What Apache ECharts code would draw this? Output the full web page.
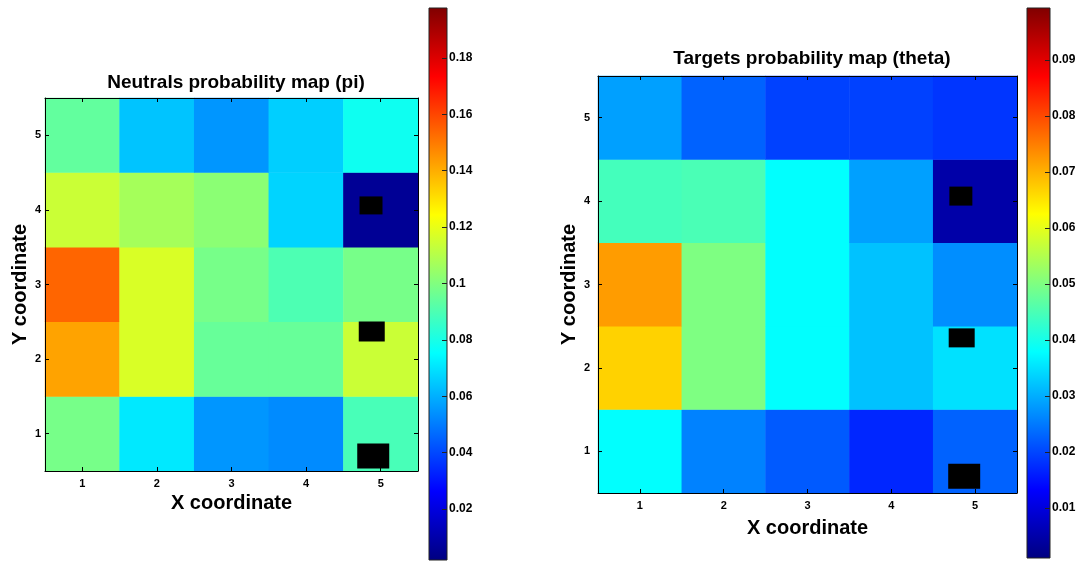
<!DOCTYPE html>
<html>
<head>
<meta charset="utf-8">
<script src="https://cdn.jsdelivr.net/npm/echarts@6/dist/echarts.min.js"></script>
<style>
html,body{margin:0;padding:0;background:#fff;}
#chart{width:1087px;height:562px;}
</style>
</head>
<body>
<div id="chart"></div>
<script>
// ---------------- data ----------------
const xCategories = ['1', '2', '3', '4', '5'];
const yCategories = ['1', '2', '3', '4', '5'];

// Neutrals probability map (pi); each row is one Y coordinate, values for X = 1..5
const piY1 = [0.098, 0.071, 0.055, 0.053, 0.089];
const piY2 = [0.142, 0.117, 0.095, 0.095, 0.114];
const piY3 = [0.154, 0.117, 0.098, 0.090, 0.098];
const piY4 = [0.114, 0.107, 0.102, 0.067, 0.006];
const piY5 = [0.094, 0.064, 0.055, 0.066, 0.078];

// Targets probability map (theta)
const thetaY1 = [0.038, 0.0258, 0.022, 0.017, 0.0228];
const thetaY2 = [0.0668, 0.050, 0.038, 0.032, 0.035];
const thetaY3 = [0.072, 0.050, 0.038, 0.032, 0.027];
const thetaY4 = [0.0444, 0.045, 0.038, 0.0287, 0.005];
const thetaY5 = [0.0287, 0.0228, 0.0196, 0.0196, 0.0185];

// colour scale ranges
const piRange = [0.0019, 0.1977];
const thetaRange = [0.0011, 0.0993];

// colourbar tick labels
const piTicks = [0.02, 0.04, 0.06, 0.08, 0.1, 0.12, 0.14, 0.16, 0.18];
const thetaTicks = [0.01, 0.02, 0.03, 0.04, 0.05, 0.06, 0.07, 0.08, 0.09];

// black marker boxes (data coordinates x, y)
const piBoxes = [[4.87, 4.06], [4.88, 2.37], [4.90, 0.70]];
const thetaBoxes = [[4.83, 4.06], [4.84, 2.36], [4.87, 0.70]];

// ---------------- helpers ----------------
const jet = ['#000080', '#0000ff', '#0080ff', '#00ffff', '#80ff80', '#ffff00', '#ff8000', '#ff0000', '#800000'];
function toCells(rows) {
  const out = [];
  rows.forEach((row, yi) => row.forEach((v, xi) => out.push([xi, yi, v])));
  return out;
}
const piCells = toCells([piY1, piY2, piY3, piY4, piY5]);
const thetaCells = toCells([thetaY1, thetaY2, thetaY3, thetaY4, thetaY5]);

const FONT = 'Liberation Sans, Arial, sans-serif';
const grids = [
  {left: 45, top: 98, width: 373, height: 373},     // 0 pi heatmap
  {left: 45, top: 98, width: 373, height: 373},     // 1 pi overlay
  {left: 429, top: 8, width: 18, height: 552},      // 2 pi colourbar
  {left: 598, top: 76, width: 419, height: 417},    // 3 theta heatmap
  {left: 598, top: 76, width: 419, height: 417},    // 4 theta overlay
  {left: 1027, top: 8, width: 23, height: 550}      // 5 theta colourbar
];
function jetGradient() {
  return new echarts.graphic.LinearGradient(0, 1, 0, 0,
    jet.map((c, i) => ({offset: i / (jet.length - 1), color: c})));
}
grids[2].show = true; grids[2].backgroundColor = jetGradient(); grids[2].borderColor = '#222'; grids[2].borderWidth = 1;
grids[5].show = true; grids[5].backgroundColor = jetGradient(); grids[5].borderColor = '#222'; grids[5].borderWidth = 1;

const tickLabel = {fontFamily: FONT, fontSize: 11, fontWeight: 'bold', color: '#000'};
const nameStyle = {fontFamily: FONT, fontSize: 20, fontWeight: 'bold', color: '#000'};

function catX(gridIndex, position, showLabel, name, nameGap) {
  return {
    type: 'category', gridIndex, data: xCategories, position, z: 5,
    axisLine: {show: true, lineStyle: {color: '#000', width: 1}},
    axisTick: {show: true, inside: true, alignWithLabel: true, length: 4, lineStyle: {color: '#000'}},
    axisLabel: Object.assign({show: showLabel, margin: 7}, tickLabel),
    splitLine: {show: false},
    name: name || '', nameLocation: 'middle', nameGap: nameGap || 0, nameTextStyle: nameStyle
  };
}
function catY(gridIndex, position, showLabel, name, nameGap, margin) {
  return {
    type: 'category', gridIndex, data: yCategories, position, z: 5,
    axisLine: {show: true, lineStyle: {color: '#000', width: 1}},
    axisTick: {show: true, inside: true, alignWithLabel: true, length: 4, lineStyle: {color: '#000'}},
    axisLabel: Object.assign({show: showLabel, margin: margin || 8}, tickLabel),
    splitLine: {show: false},
    name: name || '', nameLocation: 'middle', nameGap: nameGap || 0, nameTextStyle: nameStyle, nameRotate: 90
  };
}
function overlayAxis(type, gridIndex) {
  return {type: 'value', gridIndex, min: 0.5, max: 5.5, show: false};
}
function barAxis(gridIndex, range, ticks) {
  return {
    type: 'value', gridIndex, min: range[0], max: range[1], position: 'right', z: 5,
    axisLine: {show: false},
    splitLine: {show: false},
    axisTick: {show: true, inside: true, length: 5, lineStyle: {color: '#222'}, customValues: ticks},
    axisLabel: Object.assign({margin: 2, customValues: ticks, formatter: v => String(+v.toFixed(2))}, tickLabel, {fontSize: 12})
  };
}

const titleStyle = {fontFamily: FONT, fontSize: 19, fontWeight: 'bold', color: '#000'};
const option = {
  animation: false,
  backgroundColor: '#fff',
  title: [
    {text: 'Neutrals probability map (pi)', left: 231, top: 68, textAlign: 'center', textStyle: titleStyle},
    {text: 'Targets probability map (theta)', left: 807, top: 44, textAlign: 'center', textStyle: titleStyle}
  ],
  grid: grids,
  xAxis: [
    catX(0, 'bottom', true, 'X coordinate', 22),
    overlayAxis('x', 1),
    {type: 'category', gridIndex: 2, show: false, data: ['c']},
    catX(3, 'bottom', true, 'X coordinate', 25),
    overlayAxis('x', 4),
    {type: 'category', gridIndex: 5, show: false, data: ['c']},
    // top frames
    catX(0, 'top', false), catX(3, 'top', false)
  ],
  yAxis: [
    catY(0, 'left', true, 'Y coordinate', 14, 4),
    overlayAxis('y', 1),
    barAxis(2, piRange, piTicks),
    catY(3, 'left', true, 'Y coordinate', 19, 8),
    overlayAxis('y', 4),
    barAxis(5, thetaRange, thetaTicks),
    catY(0, 'right', false), catY(3, 'right', false)
  ],
  visualMap: [
    {type: 'continuous', show: false, seriesIndex: 0, min: piRange[0], max: piRange[1], inRange: {color: jet}},
    {type: 'continuous', show: false, seriesIndex: 2, min: thetaRange[0], max: thetaRange[1], inRange: {color: jet}}
  ],
  series: [
    {type: 'heatmap', xAxisIndex: 0, yAxisIndex: 0, data: piCells, itemStyle: {borderWidth: 0}},
    {type: 'scatter', xAxisIndex: 1, yAxisIndex: 1, data: piBoxes, symbol: 'rect',
     symbolSize: (v, p) => [[23, 18], [26, 20], [32, 25]][p.dataIndex], itemStyle: {color: '#000', opacity: 1}, z: 4},
    {type: 'heatmap', xAxisIndex: 3, yAxisIndex: 3, data: thetaCells, itemStyle: {borderWidth: 0}},
    {type: 'scatter', xAxisIndex: 4, yAxisIndex: 4, data: thetaBoxes, symbol: 'rect',
     symbolSize: (v, p) => [[23, 19], [26, 19], [32, 25]][p.dataIndex], itemStyle: {color: '#000', opacity: 1}, z: 4}
  ]
};

const chart = echarts.init(document.getElementById('chart'), null, {renderer: 'canvas'});
chart.setOption(option);
</script>
</body>
</html>
